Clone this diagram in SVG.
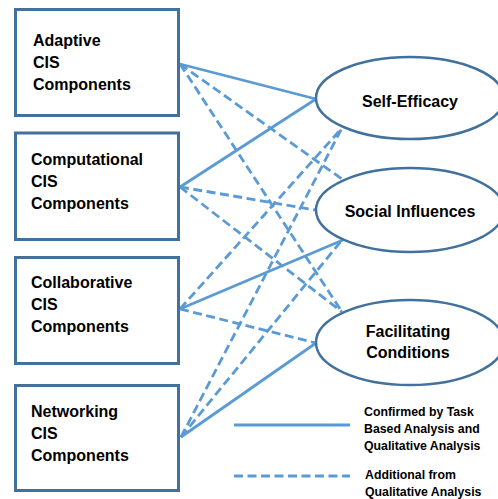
<svg xmlns="http://www.w3.org/2000/svg" width="498" height="499" viewBox="0 0 498 499">
<style>
.box{fill:#fff;stroke:#41719c;stroke-width:3}
.ell{fill:#fff;stroke:#41719c;stroke-width:2.5}
.t{font-family:"Liberation Sans",Arial,sans-serif;font-weight:bold;font-size:16px;fill:#000}
.lg{font-family:"Liberation Sans",Arial,sans-serif;font-weight:bold;font-size:12.3px;fill:#000}
.s{stroke:#5b9bd5;stroke-width:2.8;fill:none}
.d{stroke:#5b9bd5;stroke-width:2.8;fill:none;stroke-dasharray:9 4.5}
</style>
<rect width="498" height="499" fill="#fff"/>
<g id="connectors">
<line class="s" x1="180" y1="64" x2="316" y2="99"/>
<line class="d" x1="180" y1="64" x2="342" y2="179"/>
<line class="d" x1="180" y1="64" x2="342" y2="312"/>
<line class="s" x1="180" y1="187" x2="316" y2="99"/>
<line class="d" x1="180" y1="187" x2="316" y2="210"/>
<line class="d" x1="180" y1="187" x2="342" y2="312"/>
<line class="s" x1="180" y1="309" x2="343" y2="240"/>
<line class="d" x1="180" y1="309" x2="342" y2="128"/>
<line class="d" x1="180" y1="309" x2="316" y2="343"/>
<line class="s" x1="181" y1="437" x2="316" y2="343"/>
<line class="d" x1="181" y1="437" x2="342" y2="128"/>
<line class="d" x1="181" y1="437" x2="342" y2="240"/>
</g>
<g id="adaptive">
<rect class="box" x="15.5" y="9.5" width="163" height="106"/>
<text class="t" x="33" y="46">Adaptive</text>
<text class="t" x="33" y="68">CIS</text>
<text class="t" x="33" y="90">Components</text>
</g>
<g id="computational">
<rect class="box" x="15.5" y="133" width="163" height="106.5"/>
<text class="t" x="31" y="165">Computational</text>
<text class="t" x="31" y="187">CIS</text>
<text class="t" x="31" y="209">Components</text>
</g>
<g id="collaborative">
<rect class="box" x="15.5" y="257.5" width="163" height="106"/>
<text class="t" x="31" y="288">Collaborative</text>
<text class="t" x="31" y="310">CIS</text>
<text class="t" x="31" y="332">Components</text>
</g>
<g id="networking">
<rect class="box" x="15.5" y="385.5" width="163" height="105"/>
<text class="t" x="31" y="417">Networking</text>
<text class="t" x="31" y="439">CIS</text>
<text class="t" x="31" y="461">Components</text>
</g>
<g id="self-efficacy">
<ellipse class="ell" cx="410" cy="98" rx="94" ry="41"/>
<text class="t" x="410" y="107" text-anchor="middle">Self-Efficacy</text>
</g>
<g id="social-influences">
<ellipse class="ell" cx="410" cy="210" rx="94" ry="42"/>
<text class="t" x="410" y="217" text-anchor="middle">Social Influences</text>
</g>
<g id="facilitating-conditions">
<ellipse class="ell" cx="410" cy="342.5" rx="94" ry="42.5"/>
<text class="t" x="408" y="337" text-anchor="middle">Facilitating</text>
<text class="t" x="408" y="358" text-anchor="middle">Conditions</text>
</g>
<g id="legend">
<line class="s" x1="234" y1="425" x2="350" y2="425"/>
<line class="d" x1="234" y1="476" x2="350" y2="476"/>
<text class="lg" x="364" y="416">Confirmed by Task</text>
<text class="lg" x="364" y="433">Based Analysis and</text>
<text class="lg" x="364" y="450">Qualitative Analysis</text>
<text class="lg" x="365" y="479">Additional from</text>
<text class="lg" x="365" y="496">Qualitative Analysis</text>
</g>
</svg>
